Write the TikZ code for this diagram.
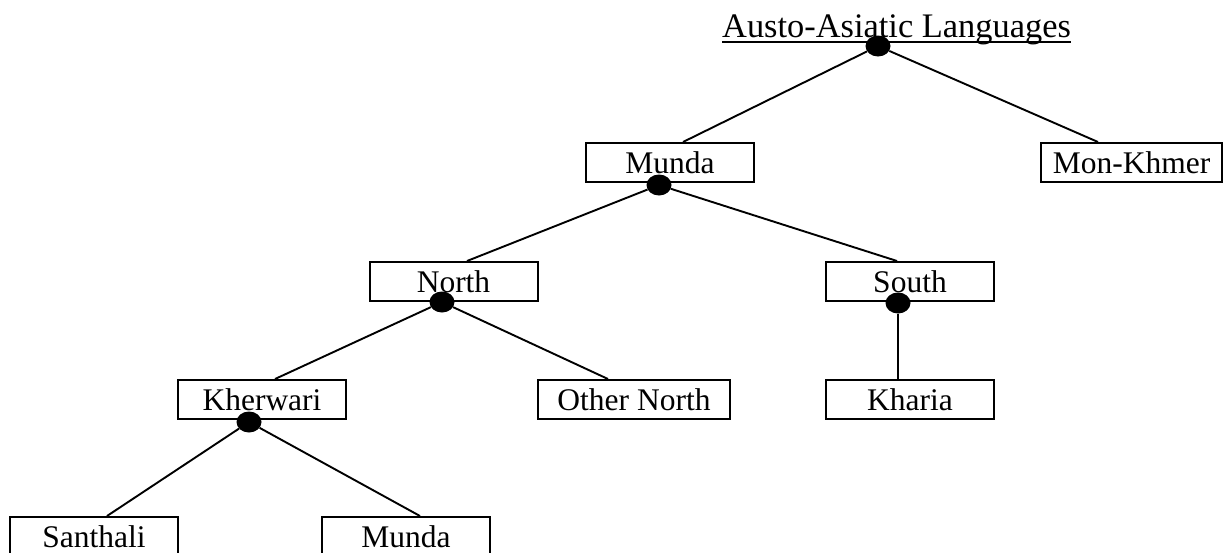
\documentclass[tikz,border=0pt]{standalone}
\usepackage{fontspec}
\setmainfont{Liberation Serif}
\usetikzlibrary{shapes.geometric,calc}
\begin{document}
\begin{tikzpicture}[x=1pt,y=-1pt,
  lbox/.style={draw=black,line width=2pt,minimum width=168pt,minimum height=39pt,inner sep=0pt,
    font=\fontsize{31.5}{36}\selectfont,text height=21pt,text depth=0pt},
  dot/.style={ellipse,fill=black,minimum width=25pt,minimum height=21pt,inner sep=0pt},
  conn/.style={line width=1.9pt}]
\useasboundingbox (0,0) rectangle (1224,552);
\fill[white] (0,0) rectangle (1224,552);
% title
\node[anchor=base west,inner sep=0pt,font=\fontsize{34.4}{40}\selectfont] (title) at (722,37) {Austo-Asiatic Languages};
\draw[line width=1.8pt] ($(title.base west)+(0,4.7)$) -- ($(title.base east)+(0,4.7)$);
% boxes
\node[lbox] (munda) at (670,162.5) {Munda};
\node[lbox,minimum width=181pt] (monkhmer) at (1131.5,162.5) {Mon-Khmer};
\node[lbox] (north) at (453.5,281.5) {North};
\node[lbox] (south) at (910,281.5) {South};
\node[lbox] (kherwari) at (262,399.5) {Kherwari};
\node[lbox,minimum width=192pt] (othernorth) at (634,399.5) {Other North};
\node[lbox] (kharia) at (910,399.5) {Kharia};
\node[lbox] (santhali) at (94,536.5) {Santhali};
\node[lbox] (munda2) at (406,536.5) {Munda};
% dots
\node[dot] (d0) at (878,46) {};
\node[dot] (d1) at (659,185) {};
\node[dot] (d2) at (442,302) {};
\node[dot] (d3) at (898,303) {};
\node[dot] (d4) at (249,422) {};
% connectors
\draw[conn] (d0) -- ([xshift=13pt]munda.north);
\draw[conn] (d0) -- ([xshift=-33.5pt]monkhmer.north);
\draw[conn] (d1) -- ([xshift=13.5pt]north.north);
\draw[conn] (d1) -- ([xshift=-13pt]south.north);
\draw[conn] (d2) -- ([xshift=13pt]kherwari.north);
\draw[conn] (d2) -- ([xshift=-26pt]othernorth.north);
\draw[conn] (d3) -- ([xshift=-12pt]kharia.north);
\draw[conn] (d4) -- ([xshift=13pt]santhali.north);
\draw[conn] (d4) -- ([xshift=14pt]munda2.north);
\end{tikzpicture}
\end{document}
